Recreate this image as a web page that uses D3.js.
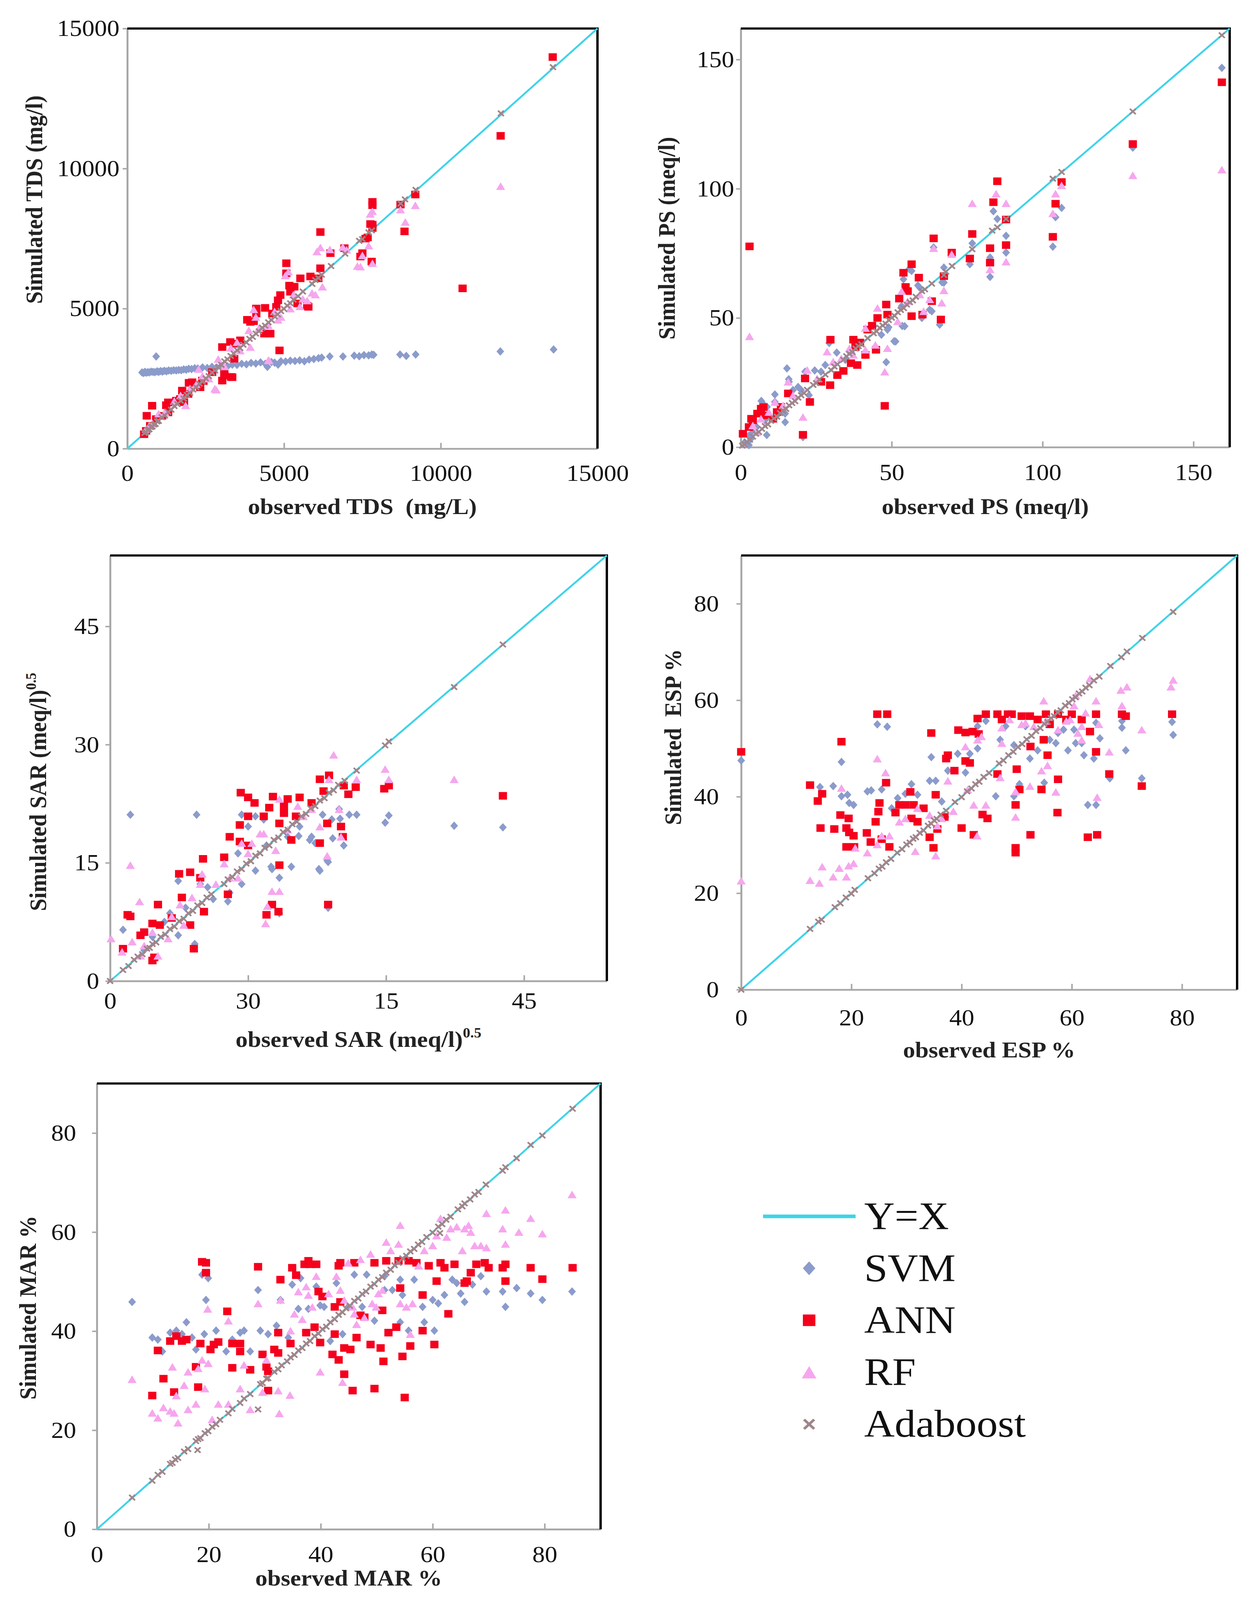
<!DOCTYPE html>
<meta charset="utf-8">
<title>Observed vs simulated water quality indices</title>
<script src="https://d3js.org/d3.v7.min.js"></script>
<style>
  html, body { margin: 0; padding: 0; background: #fff; overflow: hidden; }
  #chart { display: block; width: 100vw; height: 100vh; }
  text { font-family: "Liberation Serif", "Times New Roman", serif; }
</style>
<body>
<svg id="chart"></svg>
<script>
// ---------- data: [observed, simulated] ----------
var tdsTicks = [0, 5000, 10000, 15000];
var tdsTickLabels = ["0", "5000", "10000", "15000"];

var tdsSVM = [[470,2720],[520,2700],[560,2740],[600,2710],[650,2730],[700,2720],[760,2750],[820,2740],[880,2730],[920,3290],[950,2760],[1000,2740],[1060,2770],[1120,2750],[1180,2780],[1250,2760],[1320,2790],[1400,2780],[1480,2800],[1560,2790],[1640,2810],[1720,2800],[1800,2830],[1880,2820],[1960,2850],[2050,2840],[2150,2870],[2250,2860],[2400,2900],[2550,2880],[2700,2920],[2850,2900],[3000,2960],[3200,2940],[3350,3000],[3500,2990],[3650,3030],[3800,3010],[3950,3060],[4100,3040],[4250,3080],[4400,3030],[4470,2920],[4600,3090],[4700,3070],[4810,3000],[4900,3120],[5050,3110],[5200,3140],[5350,3130],[5500,3150],[5650,3120],[5800,3180],[5950,3200],[6100,3230],[6200,3250],[6460,3290],[6880,3290],[7240,3320],[7400,3300],[7550,3340],[7700,3330],[7800,3360],[7860,3350],[8700,3360],[8900,3310],[9200,3360],[11900,3470],[13600,3540]];
var tdsANN = [[13572,13981],[11911,11168],[10697,5722],[9189,9073],[8844,7757],[8716,8714],[7821,8810],[7821,8690],[7821,7996],[7821,7877],[7668,7541],[7500,6979],[7437,6859],[7796,6679],[6926,7158],[6480,6979],[6160,7733],[6160,6440],[6096,6081],[5777,5063],[5521,6081],[5074,6619],[5074,6260],[5329,5781],[5201,5602],[4882,5482],[4856,3507],[4754,5063],[4626,4824],[4563,4106],[4371,4106],[4115,5003],[4115,4824],[3924,4525],[3604,3866],[3476,3747],[3285,3806],[3029,3627],[3348,2550],[3029,2430],[3093,2669],[2709,2729],[2390,2430],[2326,2191],[2070,2370],[1751,2071],[1687,1772],[1560,1712],[1304,1652],[792,1532],[920,1053],[728,814],[537,515],[600,634],[1943,1951],[1304,1293],[1112,1173],[3412,3209],[3102,2616],[3309,2560],[4033,4549],[3826,4600],[4395,5025],[4808,5296],[5739,5100],[5429,5184],[5170,5820],[5842,6147],[7600,7500],[7755,8019],[2430,2410],[1965,2350],[1241,1550],[1810,1660],[620,1173]];
var tdsRF = [[11911,9373],[9189,8690],[8869,8092],[8716,8535],[7821,8475],[7750,8380],[7437,6500],[7821,6619],[7341,6520],[7000,7100],[6876,7200],[6462,7113],[6049,7040],[6160,7182],[6224,5781],[6000,5500],[5894,5559],[5739,5290],[5506,5080],[5138,6320],[5040,6180],[4808,4600],[4498,4400],[4498,3157],[4524,3148],[4033,4970],[3878,4225],[3924,3627],[3102,2940],[2792,2140],[2837,2107],[2275,2840],[1861,1546],[2400,2600],[2600,2500],[2900,3200],[3300,3600],[3600,3500],[4200,4300],[4700,4900],[5300,5500],[5600,5350],[1500,1700],[1200,1300],[1000,1250],[800,900],[700,820],[600,700],[1700,1900],[2000,2150],[2200,2300],[3500,3800],[4100,4700],[4900,4700],[5200,5000],[7700,7250],[7500,6900]];
var tdsAda = [[550,560],[600,590],[650,660],[700,690],[750,770],[800,790],[850,860],[900,880],[950,970],[1000,990],[1100,1120],[1200,1180],[1300,1310],[1400,1390],[1500,1520],[1600,1590],[1700,1710],[1800,1790],[1900,1920],[2000,1990],[2100,2110],[2200,2190],[2300,2320],[2400,2390],[2500,2510],[2600,2590],[2700,2720],[2800,2790],[2900,2910],[3000,2990],[3100,3120],[3200,3190],[3300,3310],[3400,3390],[3500,3520],[3600,3590],[3700,3710],[3800,3790],[3900,3920],[4000,3990],[4100,4110],[4200,4190],[4300,4320],[4400,4390],[4500,4510],[4600,4590],[4700,4720],[4800,4790],[4900,4910],[5000,4990],[5100,5110],[5200,5190],[5300,5320],[5450,5440],[5600,5610],[5900,5880],[6000,6020],[6100,6090],[6200,6210],[6500,6520],[6950,6960],[7400,7420],[7500,7480],[7700,7720],[7800,7790],[8720,8750],[8860,8900],[9200,9240],[11920,11970],[13580,13620]];

var psTicks = [0, 50, 100, 150];
var psTickLabels = ["0", "50", "100", "150"];

var psSVM = [[159.4,146.8],[129.9,115.9],[106.3,92.6],[104.3,89.0],[103.4,77.6],[87.9,81.8],[87.9,75.3],[85.0,88.3],[83.7,91.3],[82.6,65.9],[82.6,73.4],[76.7,78.9],[75.9,70.8],[67.3,69.5],[67.3,63.7],[66.7,63.8],[63.9,77.3],[65.9,47.4],[63.3,52.6],[62.6,53.2],[60.0,50.0],[59.3,61.7],[58.7,62.6],[56.6,68.2],[55.8,68.9],[53.9,65.0],[54.3,46.8],[53.5,46.9],[51.3,40.9],[50.8,41.0],[48.6,45.5],[49.0,46.4],[48.2,32.9],[46.6,43.5],[41.3,35.7],[38.6,39.6],[36.6,36.6],[34.6,33.8],[29.3,40.3],[26.6,29.2],[24.5,29.7],[21.3,29.2],[15.3,30.5],[16.0,25.3],[15.9,26.3],[17.3,22.1],[19.0,23.3],[11.3,17.5],[11.3,20.4],[7.3,16.9],[8.7,15.6],[6.8,17.9],[8.0,10.4],[5.3,7.8],[2.7,4.5],[2.7,0.8],[8.6,4.7],[20.6,3.9],[20.0,22.1],[22.6,20.1],[12.0,12.3],[14.7,13.0],[1.3,1.9],[4.0,5.8],[3.3,3.2],[14.7,9.7],[28.0,31.8],[36.0,37.0],[44.0,46.8],[53.3,54.6],[31.8,36.6]];
var psANN = [[159.4,141.2],[129.9,117.3],[106.3,102.6],[104.3,94.2],[103.4,81.4],[85.0,102.9],[83.7,94.8],[82.6,77.0],[82.6,71.4],[87.9,88.1],[87.9,78.2],[76.7,82.5],[75.9,73.0],[69.9,75.3],[63.9,80.8],[67.3,66.2],[66.3,49.4],[63.3,56.5],[59.0,65.6],[60.2,51.3],[56.6,70.8],[53.9,67.5],[54.6,62.0],[56.6,50.7],[55.3,60.4],[48.2,55.2],[48.6,51.3],[45.3,50.0],[44.8,37.7],[42.0,45.5],[41.3,35.7],[37.3,41.6],[38.6,31.8],[34.0,29.5],[32.0,27.9],[29.7,41.6],[29.6,24.0],[26.6,25.3],[22.9,17.5],[21.3,26.6],[20.6,4.8],[47.7,16.0],[2.9,77.7],[15.7,20.8],[6.7,14.9],[8.0,12.3],[4.0,10.4],[2.7,7.8],[0.7,5.2],[12.0,13.6],[10.7,11.0],[13.3,15.6],[39.5,40.5],[38.0,38.7],[36.5,32.5],[43.5,47.0],[52.5,57.5],[5.5,13.0],[7.5,15.5],[3.5,11.0]];
var psRF = [[159.4,107.4],[129.9,105.2],[106.3,101.3],[104.3,98.1],[103.4,90.5],[87.9,94.4],[87.9,71.8],[84.6,98.1],[82.6,68.8],[76.7,94.4],[67.3,60.7],[66.6,55.9],[63.9,77.0],[69.9,74.7],[62.6,57.2],[48.6,38.3],[47.7,29.2],[45.3,53.9],[44.6,39.6],[41.3,37.7],[36.0,38.3],[33.3,34.4],[20.6,11.7],[2.9,42.9],[15.7,25.3],[22.0,29.9],[28.6,37.0],[30.6,33.1],[53.3,60.4],[55.3,56.5],[59.3,59.1],[60.6,52.6],[41.3,46.1],[37.3,35.7],[25.3,26.6],[17.3,20.1],[9.3,13.6],[6.7,11.0],[4.0,8.4],[5.3,5.8],[11.3,17.5],[14.0,16.2],[52.0,48.7]];
var psAda = [[0.5,0.6],[1.2,1.1],[2,2.1],[3,2.9],[4,4.1],[5,5.2],[6,5.9],[7,7.1],[8,8.2],[9,8.8],[10,10.2],[11,11.1],[12,11.8],[13,13.2],[14,14.1],[15,14.8],[16,16.2],[17,17.1],[18,17.8],[19,19.2],[20,20.1],[21,20.9],[22,22.2],[24,24.1],[25,24.8],[26,26.2],[28,28.1],[30,29.8],[31,31.2],[32,32.1],[34,33.8],[35,35.2],[36,36.1],[37,36.8],[38,38.2],[39,39.1],[40,39.8],[42,42.2],[44,44.1],[45,44.8],[46,46.2],[47,47.1],[48,47.8],[49,49.2],[50,50.1],[51,50.8],[52,52.2],[53,53.1],[54,53.8],[55,55.2],[56,56.1],[57,56.8],[58,58.2],[60,60.4],[61,61.1],[63.3,63.3],[67.3,66.6],[68,67.9],[70,70.1],[76.7,76.6],[83.3,83.8],[85,85.1],[87.9,88.3],[103.4,103.9],[106.3,106.5],[129.9,129.9],[159.4,159.4]];

var sarTicks = [0, 15, 30, 45];
var sarXTickLabels = ["0", "30", "15", "45"];
var sarYTickLabels = ["0", "15", "30", "45"];

var sarSVM = [[2.2,21.1],[9.4,21.1],[1.4,6.5],[29.9,20.1],[30.3,21.0],[37.4,19.7],[42.7,19.5],[26.8,21.1],[26.0,21.1],[25.4,17.2],[23.7,9.3],[23.7,15.1],[22.8,14.0],[23.1,21.1],[21.7,17.9],[19.7,14.5],[18.4,13.1],[17.6,14.2],[18.4,8.6],[15.8,14.0],[14.3,21.1],[15.0,19.6],[14.3,12.3],[12.8,10.1],[13.0,11.2],[9.8,12.3],[7.4,12.7],[9.2,4.7],[7.4,5.8],[5.9,7.5],[3.7,3.9],[4.6,5.6],[16.7,20.5],[22.3,17.5],[19.3,18.3],[20.6,19.6],[21.9,18.3],[24.1,20.5],[24.9,21.8],[10.6,11.9],[13.9,16.2],[15.8,20.9],[24.2,18.1],[25.0,20.6],[11.2,10.4],[8.2,9.3],[6.5,8.6],[17.0,17.2],[20.5,18.4],[22.7,14.2],[23.6,15.3],[17.5,14.5]];
var sarANN = [[2.2,8.2],[1.9,8.4],[1.4,4.1],[4.6,2.6],[4.8,3.0],[5.2,9.7],[4.6,7.3],[3.3,5.8],[3.7,6.2],[5.4,7.1],[6.7,8.0],[7.5,13.6],[7.8,10.6],[8.7,13.8],[9.8,13.1],[9.1,4.1],[10.1,15.5],[8.7,7.1],[10.2,8.8],[12.4,15.7],[13.0,18.3],[12.8,11.0],[14.1,19.8],[14.2,23.9],[15.0,23.3],[15.0,20.9],[15.7,22.6],[14.1,17.7],[15.0,17.2],[16.7,20.9],[17.3,22.0],[17.7,23.4],[18.9,22.2],[18.9,21.3],[18.4,20.0],[18.4,14.7],[17.0,8.4],[17.6,9.7],[18.3,8.8],[19.7,17.9],[20.6,23.3],[22.8,17.5],[22.8,25.6],[23.2,24.1],[23.8,26.1],[23.6,20.0],[23.7,9.7],[25.1,19.6],[25.3,18.3],[25.4,24.8],[26.7,24.6],[25.9,23.7],[29.8,24.4],[30.3,24.8],[42.7,23.5],[20.2,20.9],[19.3,23.1],[21.9,22.6]];
var sarRF = [[0.1,5.4],[2.2,14.7],[3.2,10.1],[24.3,28.7],[29.9,26.9],[30.3,25.6],[37.4,25.6],[23.8,25.6],[26.8,25.6],[24.9,21.8],[23.6,15.9],[25.1,18.3],[16.9,7.3],[17.6,11.4],[18.4,11.4],[17.1,9.5],[15.0,16.2],[16.3,18.7],[14.3,17.5],[13.0,13.1],[12.4,14.9],[11.5,12.3],[10.0,13.6],[9.8,12.3],[8.9,10.6],[7.6,9.7],[6.7,8.2],[6.3,5.4],[4.6,6.2],[3.7,4.5],[2.4,5.0],[1.3,3.7],[3.3,3.2],[5.2,3.2],[8.0,7.1],[18.4,23.1],[20.4,22.2],[21.9,21.8],[21.0,20.9],[19.3,19.2],[18.0,16.6],[15.4,17.5],[16.7,18.7],[13.9,13.1],[22.8,19.6]];
var sarAda = [[0,0],[1.4,1.4],[2.0,1.9],[2.6,2.7],[3.0,3.1],[3.5,3.4],[4.0,4.1],[4.3,4.2],[4.6,4.7],[5.0,4.9],[5.5,5.6],[6.0,5.9],[6.5,6.6],[7.0,6.9],[7.5,7.6],[8.0,7.9],[8.5,8.6],[9.0,8.9],[9.5,9.6],[10.0,9.9],[10.5,10.6],[11.0,11.0],[12.4,12.3],[12.8,12.9],[13.3,13.2],[13.8,13.9],[14.3,14.2],[14.8,14.9],[15.3,15.2],[15.8,15.9],[16.3,16.2],[16.8,16.9],[17.3,17.2],[17.8,17.9],[18.3,18.2],[18.8,18.9],[19.3,19.2],[19.8,19.9],[20.3,20.2],[20.8,20.9],[21.3,21.2],[21.8,21.9],[22.3,22.2],[22.8,22.9],[23.3,23.2],[23.8,23.9],[24.3,24.2],[24.8,24.9],[25.5,25.4],[26.8,26.7],[29.9,29.9],[30.3,30.4],[37.4,37.3],[42.7,42.7]];

var pctTicks = [0, 20, 40, 60, 80];
var pctTickLabels = ["0", "20", "40", "60", "80"];

var espSVM = [[0,47.5],[14.3,42.0],[16.7,42.2],[18.2,40.1],[18.2,47.2],[19.3,40.4],[19.6,38.7],[20.4,38.3],[22.9,41.1],[23.6,41.3],[24.7,55.0],[26.5,54.5],[25.5,41.5],[27.3,37.6],[28.4,39.7],[29.8,40.6],[30.9,42.6],[32.0,40.4],[34.5,48.2],[35.3,43.3],[36.4,39.0],[37.5,45.4],[39.3,48.9],[40.7,45.0],[41.5,48.9],[42.9,50.0],[42.9,54.6],[44.4,55.7],[46.2,40.1],[47.0,51.8],[49.5,50.7],[49.5,40.1],[50.5,42.6],[52.4,47.9],[53.8,49.6],[55.0,42.9],[56.0,51.8],[57.1,51.1],[57.5,53.2],[58.5,53.9],[59.3,49.6],[60.7,51.1],[61.8,51.1],[62.2,48.6],[62.9,38.3],[64.0,47.9],[64.4,38.3],[65.1,52.1],[66.9,43.8],[64.4,55.3],[69.1,55.7],[69.1,54.3],[69.8,49.6],[72.7,43.8],[78.2,55.5],[78.4,52.8],[51.6,54.6],[48.0,54.6],[55.6,55.3],[60.4,53.9],[37.1,35.8],[34.2,43.3]];
var espANN = [[0,49.3],[12.5,42.4],[13.9,39.1],[14.7,40.6],[14.4,33.5],[16.9,33.3],[18.0,36.2],[18.2,51.4],[19.1,33.5],[19.5,35.5],[19.1,29.6],[19.6,32.6],[20.4,31.9],[20.5,29.6],[22.8,32.5],[23.5,30.6],[24.4,34.8],[24.9,36.9],[25.1,38.7],[24.7,57.1],[26.5,57.1],[25.5,31.2],[26.3,42.9],[26.9,29.6],[28.0,36.7],[28.7,38.3],[29.8,38.3],[30.7,41.0],[30.9,35.5],[31.3,38.3],[32.0,34.8],[33.1,37.6],[34.2,31.6],[34.5,53.2],[34.9,29.4],[35.3,40.4],[35.6,33.3],[36.9,35.8],[37.2,47.9],[37.5,48.6],[38.7,45.4],[39.4,53.8],[40.0,33.5],[40.7,53.3],[40.7,47.4],[41.5,47.0],[42.0,53.5],[42.2,32.1],[42.9,56.2],[43.1,53.0],[43.8,36.3],[44.4,57.1],[44.7,35.5],[46.5,44.7],[46.5,57.1],[47.3,56.0],[48.4,57.1],[49.1,57.1],[49.8,29.4],[49.8,28.4],[49.8,38.3],[50.0,45.7],[50.5,41.5],[50.9,56.7],[52.4,56.7],[52.5,50.4],[52.5,32.1],[53.8,56.0],[54.5,41.5],[54.9,51.8],[55.3,57.1],[55.6,48.6],[56.0,55.0],[57.4,36.7],[57.5,43.6],[57.5,57.1],[59.0,56.0],[60.0,57.1],[61.8,56.0],[62.9,31.6],[63.3,53.5],[64.4,49.3],[64.4,57.1],[64.6,32.1],[66.8,44.7],[69.1,57.1],[69.8,56.7],[72.7,42.2],[78.2,57.1]];
var espRF = [[0,22.6],[12.5,22.7],[14.2,22.1],[14.7,25.5],[16.7,23.4],[17.8,25.2],[18.2,41.8],[19.1,23.4],[19.5,25.7],[20.4,26.2],[20.7,29.4],[22.9,28.4],[24.7,47.9],[24.7,30.1],[25.5,31.9],[26.2,45.0],[26.9,31.9],[28.7,34.8],[29.8,35.5],[31.6,28.7],[32.0,37.6],[34.2,36.2],[35.3,27.8],[35.6,34.0],[36.4,35.5],[37.5,43.3],[38.5,37.0],[40.7,50.4],[41.1,41.5],[42.2,38.3],[42.8,31.9],[42.9,51.8],[43.6,52.5],[44.4,38.3],[47.0,44.0],[47.3,51.1],[47.3,54.3],[49.8,41.1],[49.8,35.8],[50.9,55.0],[52.4,42.2],[54.5,45.4],[54.9,59.9],[55.3,55.7],[55.6,46.5],[57.1,41.0],[57.5,53.9],[59.0,55.7],[60.4,58.9],[61.1,53.2],[61.8,51.8],[62.5,57.4],[63.3,64.5],[64.4,59.9],[64.6,39.9],[64.9,55.0],[66.8,49.3],[68.9,62.1],[69.1,58.9],[70.0,62.8],[72.7,53.9],[78.0,62.8],[78.4,64.2],[53.1,54.6],[51.6,55.3],[48.7,56.0],[59.7,56.0],[61.8,54.6],[60.7,61.0]];
var espAda = [[0,0],[12.5,12.6],[14.0,14.1],[14.6,14.5],[17.0,17.1],[18.0,17.9],[19.0,19.1],[20.0,19.9],[20.6,20.7],[23.0,23.1],[24.2,24.1],[25.0,25.1],[25.6,25.5],[26.3,26.4],[27.2,27.1],[28.3,28.4],[29.2,29.1],[30.0,30.1],[30.6,30.5],[31.2,31.3],[31.7,31.6],[32.4,32.5],[33.1,33.0],[33.9,34.0],[34.5,34.4],[35.0,35.1],[35.5,35.4],[36.2,36.3],[37.2,37.1],[38.8,38.9],[40.0,39.9],[41.0,41.1],[41.8,41.7],[42.5,42.6],[43.2,43.1],[44.0,44.1],[45.0,44.9],[46.8,46.9],[47.6,47.5],[48.5,48.6],[49.4,49.3],[50.2,50.3],[51.0,50.9],[51.8,51.9],[52.7,52.6],[53.5,53.6],[54.3,54.2],[55.0,55.1],[55.6,55.5],[56.2,56.3],[56.8,56.7],[57.4,57.5],[58.0,57.9],[58.8,58.9],[59.5,59.4],[60.1,60.2],[60.7,60.6],[61.3,61.4],[61.9,61.8],[62.5,62.6],[63.2,63.1],[64.0,64.1],[65.0,64.9],[67.0,67.1],[69.0,68.9],[70.0,70.1],[72.8,72.9],[78.4,78.3]];

var marSVM = [[6.3,45.9],[9.9,38.7],[10.9,38.3],[11.7,35.9],[13.1,39.7],[14.2,40.1],[15.2,39.4],[16.0,41.8],[17.0,38.7],[17.7,36.3],[19.2,39.4],[18.8,51.4],[19.5,46.3],[19.9,50.7],[21.3,40.1],[23.1,35.9],[24.2,38.3],[25.6,39.7],[26.3,40.1],[27.4,35.9],[28.8,48.3],[29.2,40.1],[30.6,39.4],[32.1,41.1],[32.8,46.3],[34.2,38.7],[34.9,49.4],[36.0,44.5],[36.4,50.7],[37.8,44.5],[39.2,49.0],[39.9,45.2],[40.6,44.9],[41.7,38.0],[42.8,49.7],[43.9,39.4],[44.9,44.9],[46.0,51.4],[47.4,44.9],[48.2,51.4],[49.6,42.1],[51.4,48.3],[52.8,48.3],[54.2,41.8],[54.6,47.3],[55.7,40.1],[56.7,50.4],[58.2,44.9],[58.5,41.8],[60.0,46.3],[60.3,40.1],[61.0,45.6],[62.1,47.3],[63.5,50.4],[65.0,47.6],[65.7,45.9],[67.1,49.4],[68.6,51.1],[69.6,48.0],[72.5,48.0],[73.0,44.9],[75.0,48.7],[77.5,47.6],[79.6,46.3],[84.9,48.0],[64.3,49.7],[54.2,50.4],[51.4,51.1]];
var marANN = [[9.9,27.0],[10.9,36.1],[11.9,30.4],[13.1,38.0],[13.8,27.7],[14.2,39.0],[15.2,38.0],[16.0,38.3],[17.7,32.8],[18.1,28.7],[18.5,37.5],[18.8,54.0],[19.5,53.8],[19.5,51.8],[20.3,36.3],[20.9,37.3],[21.7,37.8],[23.3,44.0],[24.2,32.6],[24.2,37.5],[25.6,37.5],[25.6,35.9],[27.4,32.2],[28.8,53.0],[29.6,35.3],[30.3,32.8],[30.6,31.9],[30.6,28.0],[31.7,36.3],[32.4,39.7],[32.4,35.6],[32.8,50.4],[34.6,37.5],[34.9,52.8],[35.6,51.3],[37.4,39.7],[37.1,53.5],[37.8,54.2],[38.1,53.5],[38.9,40.8],[39.2,53.5],[39.6,48.0],[39.9,37.7],[40.3,47.0],[42.1,35.3],[42.5,39.4],[42.5,44.9],[43.2,53.2],[43.2,34.2],[43.5,53.8],[43.5,45.9],[44.2,36.6],[44.2,31.3],[45.3,36.3],[45.7,28.0],[46.0,53.8],[46.4,38.7],[47.1,43.2],[47.8,42.8],[48.9,37.3],[49.6,28.4],[49.6,53.8],[50.7,36.6],[51.0,44.2],[51.2,33.9],[51.7,54.2],[52.1,39.7],[53.5,40.8],[53.9,54.2],[54.2,48.7],[54.6,34.9],[55.0,26.6],[55.7,54.2],[56.0,37.0],[57.1,53.8],[58.2,47.3],[58.2,40.1],[59.3,53.2],[60.3,37.3],[60.7,50.1],[61.4,53.8],[62.1,52.8],[62.8,43.5],[63.9,53.5],[65.7,49.7],[66.1,50.1],[66.8,51.8],[67.8,53.5],[69.3,53.8],[70.0,52.8],[72.5,52.8],[73.0,53.5],[73.0,50.1],[77.5,52.8],[79.6,50.5],[85.0,52.8]];
var marRF = [[6.3,30.3],[9.9,23.5],[10.9,22.5],[11.9,24.6],[13.1,23.9],[13.5,32.8],[13.8,23.5],[14.2,27.0],[14.5,21.5],[15.6,29.1],[16.3,31.8],[16.3,24.2],[17.7,25.3],[18.1,32.5],[18.8,34.2],[19.3,28.4],[19.8,44.5],[19.9,33.5],[20.6,22.2],[21.7,25.3],[23.5,42.1],[23.5,25.3],[25.6,28.4],[26.3,33.2],[27.4,24.2],[28.8,45.6],[29.6,27.7],[30.3,34.2],[32.4,28.0],[32.6,23.4],[32.8,46.3],[34.5,27.1],[34.6,40.1],[35.3,43.5],[36.0,48.0],[36.7,42.4],[37.4,49.0],[37.8,47.3],[38.5,44.9],[39.2,51.1],[39.9,31.8],[41.4,47.6],[42.8,51.1],[43.5,48.3],[43.9,29.7],[44.2,46.3],[44.9,53.8],[45.7,44.9],[46.0,43.5],[46.4,41.4],[47.1,54.5],[47.8,42.8],[48.9,55.6],[49.2,45.6],[49.9,44.9],[50.3,47.6],[51.0,48.3],[51.7,58.0],[52.5,56.3],[53.9,57.6],[54.2,61.4],[54.2,45.6],[55.3,44.9],[56.0,39.4],[56.4,45.6],[57.5,53.2],[58.5,56.3],[60.0,57.3],[60.7,59.3],[61.4,62.8],[62.5,59.0],[63.2,60.7],[64.3,61.1],[65.3,56.3],[65.7,60.7],[66.4,61.4],[66.8,60.0],[67.5,57.3],[68.6,57.3],[69.6,56.9],[69.6,63.8],[72.5,60.7],[73.0,64.5],[73.0,57.6],[75.4,60.0],[77.5,62.8],[79.6,59.7],[84.9,67.6]];
var marAda = [[6.3,6.4],[9.9,9.8],[10.9,11.0],[11.7,11.6],[13.1,13.2],[13.5,13.4],[14.0,14.1],[14.5,14.4],[15.6,15.7],[16.3,16.2],[17.7,17.8],[18.0,16.0],[18.1,18.2],[18.5,18.4],[19.3,19.4],[19.9,19.8],[20.6,20.7],[21.3,21.2],[22.0,22.1],[23.5,23.4],[24.2,24.3],[25.6,25.5],[26.3,26.4],[27.4,27.3],[28.8,24.2],[29.2,29.3],[29.6,29.5],[30.3,30.4],[30.6,30.5],[31.7,31.8],[32.4,32.3],[33.0,33.1],[34.0,33.9],[34.6,34.7],[35.3,35.2],[36.0,36.1],[36.7,36.6],[37.4,37.5],[38.1,38.0],[38.9,39.0],[39.6,39.5],[40.3,40.4],[41.0,40.9],[41.7,41.8],[42.5,42.4],[43.2,43.3],[43.9,43.8],[44.5,44.6],[45.2,45.1],[46.0,46.1],[46.7,46.6],[47.4,47.5],[48.1,48.0],[48.9,49.0],[49.6,49.5],[50.3,50.4],[51.0,50.9],[51.7,51.8],[52.5,52.4],[53.2,53.3],[53.9,53.8],[54.6,54.7],[55.3,55.2],[56.0,56.1],[56.7,56.6],[57.4,57.5],[58.1,58.0],[58.9,59.0],[60.0,59.9],[61.0,61.1],[61.3,59.8],[61.7,61.6],[62.4,62.5],[63.2,63.1],[64.5,64.6],[65.3,65.2],[65.7,65.8],[66.7,66.6],[67.5,67.6],[68.2,68.1],[69.5,69.6],[72.5,72.4],[73.0,73.1],[75.0,74.9],[77.5,77.6],[79.6,79.5],[85.0,84.9]];

var legendLabels = ["Y=X", "SVM", "ANN", "RF", "Adaboost"];
var seriesKeys = ["svm", "ann", "rf", "ada"];

// ---------- styles and layout ----------
var colors = { line: "#3fd3e8", svm: "#8b9bcb", ann: "#f5001c", rf: "#f6a6ee", ada: "#a0858a" };
var axisGray = "#a8a8a8";
var font = '"Liberation Serif", "Times New Roman", serif';

var panels = [
  { box: [326, 79, 1530, 1243], domain: [0, 15000], ticks: tdsTicks, xLabels: tdsTickLabels, yLabels: tdsTickLabels,
    data: { svm: tdsSVM, ann: tdsANN, rf: tdsRF, ada: tdsAda }, xPad: 44, yPad: 8,
    xTitle: ["observed TDS\u00a0\u00a0(mg/L)"], xTitleY: 1424, yTitle: ["Simulated TDS (mg/l)"], yTitleX: 108, yTitleC: 553 },
  { box: [1897, 79, 3149, 1239], domain: [0, 162], ticks: psTicks, xLabels: psTickLabels, yLabels: psTickLabels,
    data: { svm: psSVM, ann: psANN, rf: psRF, ada: psAda }, xPad: 46, yPad: 5,
    xTitle: ["observed PS (meq/l)"], xTitleY: 1424, yTitle: ["Simulated PS (meq/l)"], yTitleX: 1728, yTitleC: 660 },
  { box: [282, 1539, 1554, 2718], domain: [0, 54], ticks: sarTicks, xLabels: sarXTickLabels, yLabels: sarYTickLabels,
    data: { svm: sarSVM, ann: sarANN, rf: sarRF, ada: sarAda }, xPad: 31, yPad: 16,
    xTitle: ["observed SAR (meq/l)", "0.5"], xTitleY: 2900, yTitle: ["Simulated SAR (meq/l)", "0.5"], yTitleX: 118, yTitleC: 2194 },
  { box: [1898, 1539, 3168, 2742], domain: [0, 90], ticks: pctTicks, xLabels: pctTickLabels, yLabels: pctTickLabels,
    data: { svm: espSVM, ann: espANN, rf: espRF, ada: espAda }, xPad: 53, yPad: 45,
    xTitle: ["observed ESP %"], xTitleY: 2930, yTitle: ["Simulated\u00a0\u00a0ESP %"], yTitleX: 1744, yTitleC: 2042 },
  { box: [248, 3002, 1538, 4237], domain: [0, 90], ticks: pctTicks, xLabels: pctTickLabels, yLabels: pctTickLabels,
    data: { svm: marSVM, ann: marANN, rf: marRF, ada: marAda }, xPad: 46, yPad: 41,
    xTitle: ["observed MAR %"], xTitleY: 4393, yTitle: ["Simulated MAR %"], yTitleX: 92, yTitleC: 3623 }
];

var markerSize = { svm: 21, ann: 21, rf: 21, ada: 15 };

function markerPath(kind, s) {
  if (kind === "svm") {
    var w = s * 0.47, h = s * 0.56;
    return "M0," + (-h) + "L" + w + ",0L0," + h + "L" + (-w) + ",0Z";
  }
  if (kind === "ann") {
    var a = s / 2;
    return "M" + (-a) + "," + (-a) + "H" + a + "V" + a + "H" + (-a) + "Z";
  }
  if (kind === "rf") {
    var b = s * 0.55, t = s * 0.5;
    return "M0," + (-t) + "L" + b + "," + t + "L" + (-b) + "," + t + "Z";
  }
  var c = s / 2;
  return "M" + (-c) + "," + (-c) + "L" + c + "," + c + "M" + c + "," + (-c) + "L" + (-c) + "," + c;
}

function styleMarker(sel, kind) {
  if (kind === "ada") {
    sel.attr("fill", "none").attr("stroke", colors.ada).attr("stroke-width", 4.5);
  } else {
    sel.attr("fill", colors[kind]).attr("stroke", "none");
  }
}

function addTitle(sel, parts) {
  sel.append("tspan").text(parts[0]);
  if (parts.length > 1) {
    sel.append("tspan").attr("font-size", 38).attr("dy", -26).text(parts[1]);
  }
}

// the 3201 x 4433 drawing is stretched over whatever viewport we get
var svg = d3.select("#chart")
  .attr("viewBox", "0 0 3201 4433")
  .attr("preserveAspectRatio", "none");
svg.append("rect").attr("width", 3201).attr("height", 4433).attr("fill", "#fff");

panels.forEach(function(p) {
  var x = d3.scaleLinear().domain(p.domain).range([p.box[0], p.box[2]]);
  var y = d3.scaleLinear().domain(p.domain).range([p.box[3], p.box[1]]);
  var g = svg.append("g");

  // bottom axis, ticks pointing inward
  var gx = g.append("g")
    .attr("transform", "translate(0," + p.box[3] + ")")
    .call(d3.axisBottom(x).tickValues(p.ticks).tickSizeInner(-16).tickSizeOuter(0)
      .tickPadding(p.xPad).tickFormat(function(d, i) { return p.xLabels[i]; }));
  // left axis
  var gy = g.append("g")
    .attr("transform", "translate(" + p.box[0] + ",0)")
    .call(d3.axisLeft(y).tickValues(p.ticks).tickSizeInner(12).tickSizeOuter(0)
      .tickPadding(p.yPad).tickFormat(function(d, i) { return p.yLabels[i]; }));
  [gx, gy].forEach(function(a) {
    a.attr("font-size", 64).attr("font-family", font);
    a.select(".domain").attr("stroke", axisGray).attr("stroke-width", 5);
    a.selectAll(".tick line").attr("stroke", axisGray).attr("stroke-width", 4);
    a.selectAll(".tick text").attr("fill", "#111");
  });

  // top and right frame in black
  g.append("path")
    .attr("d", "M" + x(p.domain[0]) + "," + y(p.domain[1]) + "H" + x(p.domain[1]) + "V" + y(p.domain[0]))
    .attr("fill", "none").attr("stroke", "#000").attr("stroke-width", 6);

  // Y = X reference line
  g.append("line")
    .attr("x1", x(p.domain[0])).attr("y1", y(p.domain[0]))
    .attr("x2", x(p.domain[1])).attr("y2", y(p.domain[1]))
    .attr("stroke", colors.line).attr("stroke-width", 5);

  seriesKeys.forEach(function(k) {
    g.append("g").selectAll("path").data(p.data[k]).join("path")
      .attr("transform", function(d) { return "translate(" + x(d[0]) + "," + y(d[1]) + ")"; })
      .attr("d", markerPath(k, markerSize[k]))
      .call(styleMarker, k);
  });

  // axis titles
  var xt = g.append("text")
    .attr("x", (p.box[0] + p.box[2]) / 2).attr("y", p.xTitleY)
    .attr("text-anchor", "middle").attr("font-weight", "bold").attr("font-size", 62).attr("fill", "#222");
  addTitle(xt, p.xTitle);
  var yt = g.append("text")
    .attr("transform", "translate(" + p.yTitleX + "," + p.yTitleC + ") rotate(-90)")
    .attr("text-anchor", "middle").attr("font-weight", "bold").attr("font-size", 62).attr("fill", "#222");
  addTitle(yt, p.yTitle);
});

// ---------- legend ----------
var legend = svg.append("g").attr("transform", "translate(1954,3370)");
var rowGap = 144;
legend.append("line").attr("x1", 0).attr("x2", 237).attr("y1", 0).attr("y2", 0)
  .attr("stroke", colors.line).attr("stroke-width", 10);
var legendMarkerSize = { svm: 34, ann: 32, rf: 34, ada: 26 };
seriesKeys.forEach(function(k, i) {
  legend.append("path")
    .attr("transform", "translate(118," + ((i + 1) * rowGap) + ")")
    .attr("d", markerPath(k, legendMarkerSize[k]))
    .call(styleMarker, k)
    .attr("stroke-width", k === "ada" ? 7 : null);
});
legend.selectAll("text.lab").data(legendLabels).join("text")
  .attr("class", "lab")
  .attr("x", 259).attr("y", function(d, i) { return i * rowGap + 35; })
  .attr("font-size", 108).attr("fill", "#111")
  .text(function(d) { return d; });
</script>
</body>
